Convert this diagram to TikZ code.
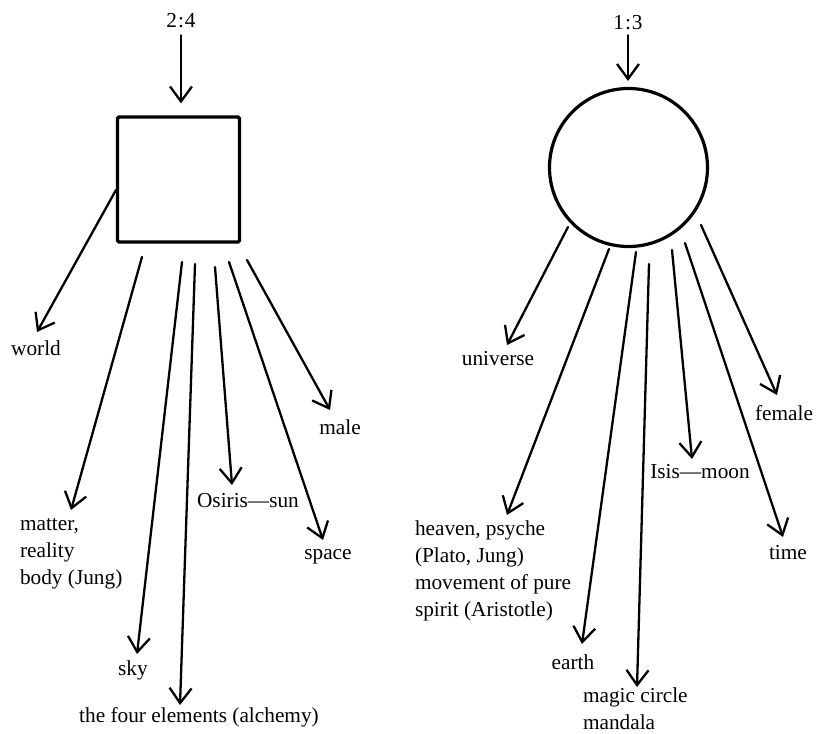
\documentclass[tikz,border=0pt]{standalone}
\usepackage{fontspec}
\setmainfont{Liberation Serif}
\usetikzlibrary{arrows.meta}
\begin{document}
\begin{tikzpicture}[x=1pt,y=-1pt,
  every node/.style={inner sep=0pt, outer sep=0pt, font=\fontsize{21.3}{27}\selectfont},
  lbl/.style={anchor=base},
  lblw/.style={anchor=base west},
  ray/.style={line width=2.3pt, line cap=round, -{Straight Barb[length=15pt,width=22pt,line width=2.3pt]}},
  shapeline/.style={draw, line width=3.2pt}]
\useasboundingbox[fill=white] (0,0) rectangle (820,734);

% ---------- left figure: the square ----------
\node[lbl] (r24) at (181,27) {2{\kern1pt}:{\kern1pt}4};
\node[shapeline, rounded corners=1.5pt, minimum width=122pt, minimum height=125pt, outer sep=1.6pt] (sq) at (178.5,179.5) {};
\draw[ray, shorten <=8pt, shorten >=12pt] (r24.south) -- (r24.south |- sq.north);

% start points of the rays
\coordinate (sqW)  at (116,190);
\coordinate (sq1)  at (142,257);
\coordinate (sq2)  at (182,262);
\coordinate (sq3)  at (195,264);
\coordinate (sq4)  at (215,267);
\coordinate (sq5)  at (229,262);
\coordinate (sq6)  at (247,260);
% arrow tips
\coordinate (tWorld)  at (37,332);
\coordinate (tMatter) at (71,510);
\coordinate (tSky)    at (137,654);
\coordinate (tFour)   at (180,705);
\coordinate (tOsiris) at (232,485);
\coordinate (tSpace)  at (323,540);
\coordinate (tMale)   at (330,410);

\draw[ray] (sqW) -- (tWorld);
\draw[ray] (sq1) -- (tMatter);
\draw[ray] (sq2) -- (tSky);
\draw[ray] (sq3) -- (tFour);
\draw[ray] (sq4) -- (tOsiris);
\draw[ray] (sq5) -- (tSpace);
\draw[ray] (sq6) -- (tMale);

\node[lbl] (world) at (36,355) {world};
\node[lblw] (matter) at (20,530) {\begin{tabular}[t]{@{}l@{}}matter,\\reality\\body (Jung)\end{tabular}};
\node[lbl] (sky) at (133,675) {sky};
\node[lbl] (four) at (199,722) {the four elements (alchemy)};
\node[lbl] (osiris) at (248,507) {Osiris---sun};
\node[lbl] (space) at (328,559) {space};
\node[lbl] (male) at (340,434) {male};

% ---------- right figure: the circle ----------
\node[lbl] (r13) at (628,29) {1{\kern1pt}:{\kern1pt}3};
\node[shapeline, circle, minimum size=158pt, outer sep=1.6pt] (circ) at (628.5,167.5) {};
\draw[ray, shorten <=6pt, shorten >=6pt] (r13.south) -- (r13.south |- circ.north);

\coordinate (ci0) at (568,227);
\coordinate (ci1) at (609,249);
\coordinate (ci2) at (636,252);
\coordinate (ci3) at (649,264);
\coordinate (ci4) at (672,250);
\coordinate (ci5) at (685,243);
\coordinate (ci6) at (701,225);

\coordinate (tUniverse) at (507,345);
\coordinate (tHeaven)   at (507,515);
\coordinate (tEarth)    at (582,644);
\coordinate (tMagic)    at (637,687);
\coordinate (tIsis)     at (692,459);
\coordinate (tTime)     at (783,537);
\coordinate (tFemale)   at (777,395);

\draw[ray] (ci0) -- (tUniverse);
\draw[ray] (ci1) -- (tHeaven);
\draw[ray] (ci2) -- (tEarth);
\draw[ray] (ci3) -- (tMagic);
\draw[ray] (ci4) -- (tIsis);
\draw[ray] (ci5) -- (tTime);
\draw[ray] (ci6) -- (tFemale);

\node[lbl] (universe) at (498,365) {universe};
\node[lblw] (heaven) at (415,535) {\begin{tabular}[t]{@{}l@{}}heaven, psyche\\(Plato, Jung)\\movement of pure\\spirit (Aristotle)\end{tabular}};
\node[lbl] (earth) at (573,669) {earth};
\node[lblw] (magic) at (583,702) {\begin{tabular}[t]{@{}l@{}}magic circle\\mandala\end{tabular}};
\node[lbl] (isis) at (700,478) {Isis---moon};
\node[lbl] (time) at (788,559) {time};
\node[lbl] (female) at (784,420) {female};
\end{tikzpicture}
\end{document}
